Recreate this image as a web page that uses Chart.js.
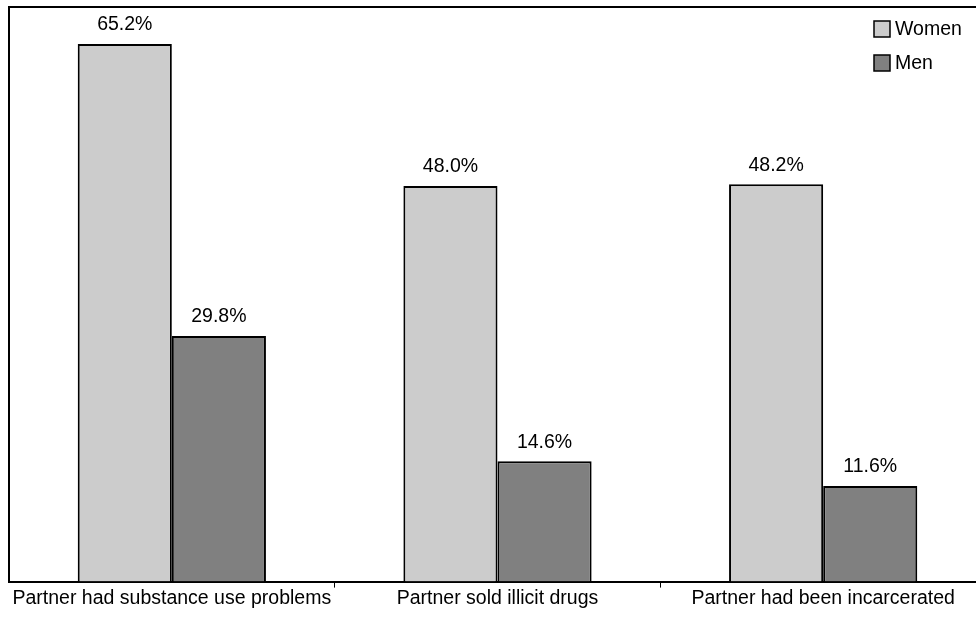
<!DOCTYPE html>
<html>
<head>
<meta charset="utf-8">
<script src="https://cdn.jsdelivr.net/npm/chart.js@4.4.1/dist/chart.umd.min.js"></script>
<style>
  html, body { margin: 0; padding: 0; background: #fff; overflow: hidden; }
  #wrap { width: 986px; height: 622px; }
</style>
</head>
<body>
<div id="wrap"><canvas id="c" width="986" height="622"></canvas></div>
<script>
// Partner characteristics reported, by sex (percent)
const categories = [
  'Partner had substance use problems',
  'Partner sold illicit drugs',
  'Partner had been incarcerated'
];
const women = [65.2, 48.0, 48.2];
const men = [29.8, 14.6, 11.6];
const seriesNames = ['Women', 'Men'];

const FONT = 'Liberation Sans, Arial, Helvetica, sans-serif';
const FONT_SIZE = 19.5;

// Frame along the top and left of the plot area
const framePlugin = {
  id: 'frame',
  afterDraw(chart) {
    const { ctx, chartArea: a } = chart;
    ctx.save();
    ctx.strokeStyle = '#000';
    ctx.lineWidth = 2;
    ctx.beginPath();
    ctx.moveTo(a.left, a.bottom);
    ctx.lineTo(a.left, a.top);
    ctx.lineTo(a.right + 2, a.top);
    ctx.stroke();
    ctx.restore();
  }
};

// Percentage printed above each bar
const valueLabels = {
  id: 'valueLabels',
  afterDatasetsDraw(chart) {
    const { ctx } = chart;
    ctx.save();
    ctx.fillStyle = '#000';
    ctx.font = FONT_SIZE + 'px ' + FONT;
    ctx.textAlign = 'center';
    ctx.textBaseline = 'middle';
    chart.data.datasets.forEach((ds, i) => {
      chart.getDatasetMeta(i).data.forEach((bar, j) => {
        ctx.fillText(ds.data[j].toFixed(1) + '%', bar.x, bar.y - 19);
      });
    });
    ctx.restore();
  }
};

// Legend in the upper right corner of the plot
const cornerLegend = {
  id: 'cornerLegend',
  afterDraw(chart) {
    const { ctx } = chart;
    const x = 874, y0 = 21, box = 16, step = 34;
    ctx.save();
    ctx.font = FONT_SIZE + 'px ' + FONT;
    ctx.textBaseline = 'middle';
    ctx.textAlign = 'left';
    chart.data.datasets.forEach((ds, i) => {
      const y = y0 + i * step;
      ctx.fillStyle = ds.backgroundColor;
      ctx.fillRect(x, y, box, box);
      ctx.strokeStyle = '#000';
      ctx.lineWidth = 1.5;
      ctx.strokeRect(x, y, box, box);
      ctx.fillStyle = '#000';
      ctx.fillText(ds.label, x + box + 5, y + box / 2 + 1);
    });
    ctx.restore();
  }
};

new Chart(document.getElementById('c'), {
  type: 'bar',
  data: {
    labels: categories,
    datasets: [
      { label: seriesNames[0], data: women, backgroundColor: '#cccccc', borderColor: '#000', borderWidth: 2 },
      { label: seriesNames[1], data: men, backgroundColor: '#808080', borderColor: '#000', borderWidth: 2 }
    ]
  },
  options: {
    responsive: false,
    animation: false,
    devicePixelRatio: 1,
    layout: { padding: { left: 9, top: 7, right: 0, bottom: 13 } },
    datasets: { bar: { categoryPercentage: 0.578, barPercentage: 1 } },
    plugins: { legend: { display: false }, tooltip: { enabled: false } },
    scales: {
      y: { display: false, min: 0, max: 69.7 },
      x: {
        grid: {
          display: true,
          offset: true,
          drawOnChartArea: false,
          tickLength: 6,
          tickWidth: 1,
          color: (c) => (c.index === 0 ? 'rgba(0,0,0,0)' : '#000')
        },
        border: { display: true, color: '#000', width: 2 },
        ticks: {
          color: '#000',
          padding: -1,
          maxRotation: 0,
          autoSkip: false,
          font: { family: FONT, size: FONT_SIZE }
        }
      }
    }
  },
  plugins: [framePlugin, valueLabels, cornerLegend]
});
</script>
</body>
</html>
